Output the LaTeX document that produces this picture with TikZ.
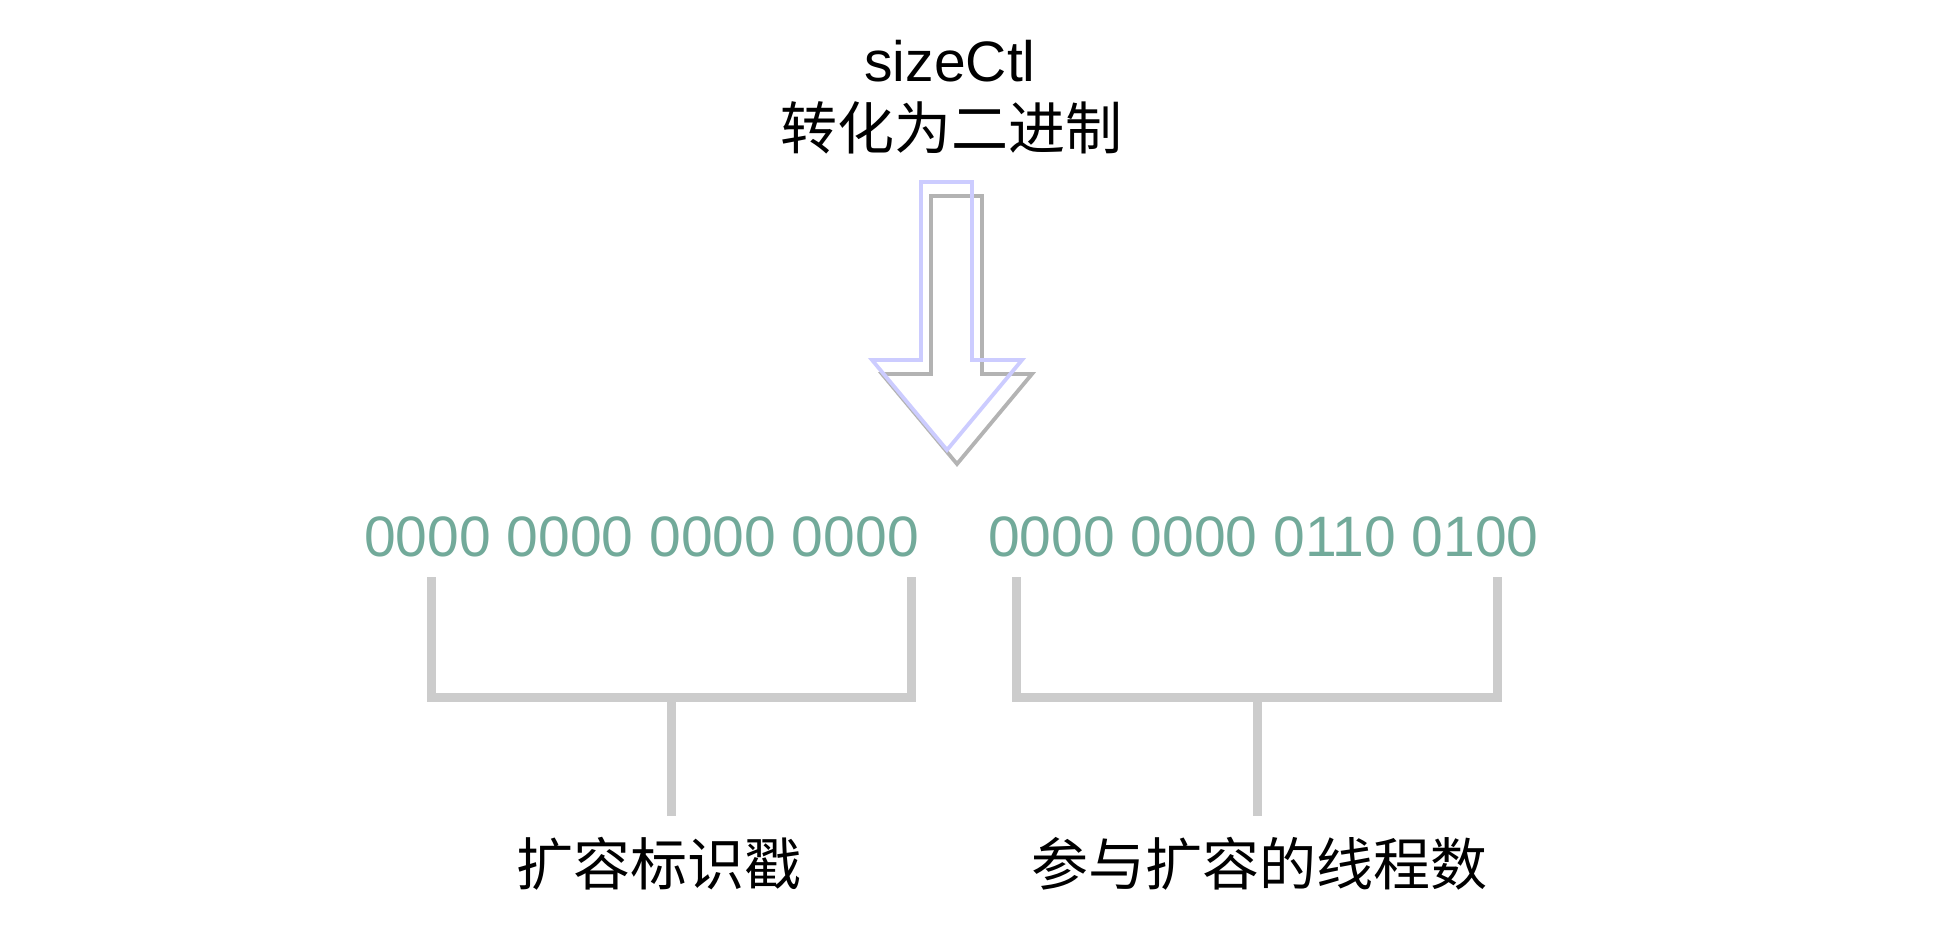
\documentclass[tikz,border=0pt]{standalone}
\usepackage{fontspec}
\setmainfont{Liberation Sans}
\newfontfamily\cjk{Noto Sans CJK SC}
\usetikzlibrary{positioning}

\definecolor{bitgreen}{HTML}{72AA9A}
\definecolor{bracegray}{HTML}{CCCCCC}
\definecolor{arrowblue}{HTML}{CCCCFF}
\definecolor{shadowgray}{HTML}{B3B3B3}

\tikzset{
    bits/.style = {text = bitgreen, font = \fontsize{28.5}{34}\selectfont, inner sep = 0pt},
    cjktext/.style = {font = \cjk\fontsize{28.5}{34}\selectfont, inner sep = 0pt},
    brace/.style = {draw = bracegray, line width = 4.5pt},
}

\begin{document}
\begin{tikzpicture}[x = 0.5pt, y = -0.5pt]
        \useasboundingbox (0, 0) rectangle (1942, 940);

        \node[anchor = base, font = \fontsize{28.5}{34}\selectfont, inner sep = 0pt] (size) at (950, 82) {sizeCtl};
        \node[cjktext] (conv) at (951, 127.5) {转化为二进制};

        % block arrow and its shadow
        \foreach \dx/\dy/\col in {10/14/shadowgray, 0/0/arrowblue}
            \draw[\col, line width = 1.9pt, shift = {(\dx, \dy)}]
                (921, 182) -- (972, 182) -- (972, 360) -- (1022, 360)
                -- (947, 450) -- (872, 360) -- (921, 360) -- cycle;

        \node[bits] (high) at (641.5, 537) {0000 0000 0000 0000};
        \node[bits] (low) at (1263.5, 537) {0000 0000 0110 0100};

        \node[cjktext] (stamp) at (659, 864) {扩容标识戳};
        \node[cjktext] (threads) at (1259, 864) {参与扩容的线程数};

        \coordinate (hl) at (431, 577);
        \coordinate (hr) at (911, 697);
        \coordinate (hm) at (671, 697);
        \coordinate (hs) at (671, 816);
        \coordinate (ll) at (1016, 577);
        \coordinate (lr) at (1497, 697);
        \coordinate (lm) at (1257, 697);
        \coordinate (ls) at (1257, 816);

        \draw[brace] (hl) |- (hr) -- ++(0, -120);
        \draw[brace] (hm) -- (hs);
        \draw[brace] (ll) |- (lr) -- ++(0, -120);
        \draw[brace] (lm) -- (ls);
    \end{tikzpicture}
\end{document}
